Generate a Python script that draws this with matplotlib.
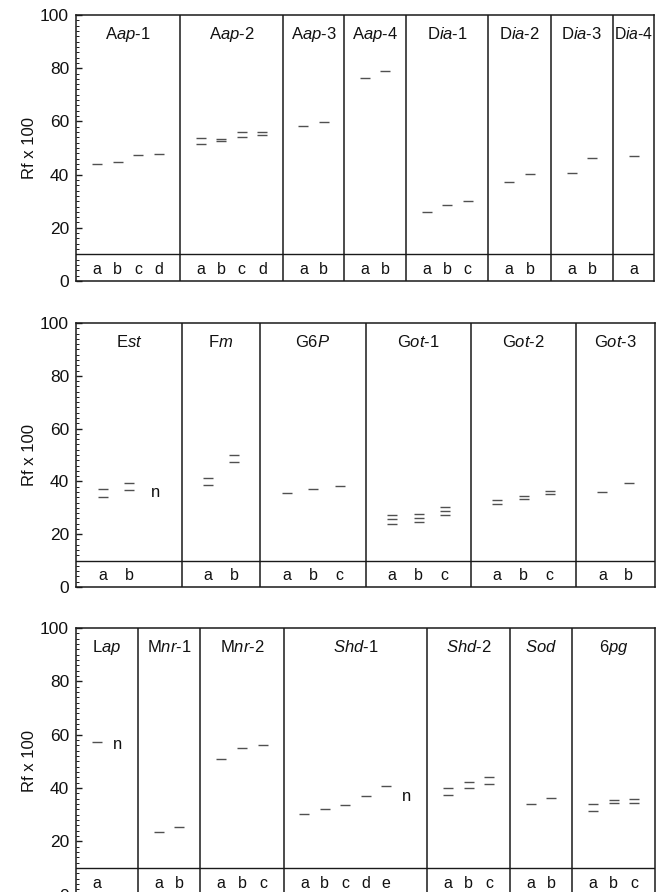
import matplotlib
matplotlib.use("Agg")
import matplotlib.pyplot as plt
from matplotlib.ticker import MultipleLocator

plt.rcParams['font.family'] = ['Liberation Sans', 'DejaVu Sans']
plt.rcParams['mathtext.fontset'] = 'custom'
plt.rcParams['mathtext.rm'] = 'Liberation Sans'
plt.rcParams['mathtext.it'] = 'Liberation Sans:italic'

# ---------------- data ----------------
# Panel 1
p1_titles = [r"A$\mathit{ap}$-$\mathit{1}$", r"A$\mathit{ap}$-$\mathit{2}$",
             r"A$\mathit{ap}$-$\mathit{3}$", r"A$\mathit{ap}$-$\mathit{4}$",
             r"D$\mathit{ia}$-$\mathit{1}$", r"D$\mathit{ia}$-$\mathit{2}$",
             r"D$\mathit{ia}$-$\mathit{3}$", r"D$\mathit{ia}$-$\mathit{4}$"]
p1_widths = [104, 103, 61, 62, 82, 63, 62, 41]
p1_lanes = [["a", "b", "c", "d"], ["a", "b", "c", "d"], ["a", "b"], ["a", "b"],
            ["a", "b", "c"], ["a", "b"], ["a", "b"], ["a"]]
p1_bands = [
    [[44.0], [44.6], [47.2], [47.9]],
    [[53.8, 51.5], [53.3, 52.5], [55.9, 54.1], [56.0, 54.8]],
    [[58.4], [59.8]],
    [[76.2], [78.9]],
    [[26.1], [28.5], [30.0]],
    [[37.1], [40.2]],
    [[40.5], [46.1]],
    [[46.9]],
]
p1_null = [None] * 8          # "n" marks (lane, value) if any

# Panel 2
p2_titles = [r"E$\mathit{st}$", r"F$\mathit{m}$", r"G$\mathit{6P}$",
             r"G$\mathit{ot}$-$\mathit{1}$", r"G$\mathit{ot}$-$\mathit{2}$",
             r"G$\mathit{ot}$-$\mathit{3}$"]
p2_widths = [106, 78, 106, 105, 105, 79]
p2_lanes = [["a", "b", ""], ["a", "b"], ["a", "b", "c"], ["a", "b", "c"],
            ["a", "b", "c"], ["a", "b"]]
p2_bands = [
    [[37.0, 34.2], [39.5, 36.7], []],
    [[41.4, 38.6], [50.0, 47.5]],
    [[35.5], [37.1], [38.4]],
    [[27.3, 25.6, 23.9], [27.8, 26.3, 24.5], [30.2, 28.7, 27.2]],
    [[32.8, 31.4], [34.6, 33.2], [36.5, 35.1]],
    [[35.9], [39.3]],
]
p2_null = [(2, 35.7), None, None, None, None, None]

# Panel 3
p3_titles = [r"L$\mathit{ap}$", r"M$\mathit{nr}$-$\mathit{1}$",
             r"M$\mathit{nr}$-$\mathit{2}$", r"$\mathit{Shd}$-$\mathit{1}$",
             r"$\mathit{Shd}$-$\mathit{2}$", r"$\mathit{Sod}$", r"$\mathit{6pg}$"]
p3_widths = [62, 62, 84, 143, 83, 62, 83]
p3_lanes = [["a", ""], ["a", "b"], ["a", "b", "c"], ["a", "b", "c", "d", "e", ""],
            ["a", "b", "c"], ["a", "b"], ["a", "b", "c"]]
p3_bands = [
    [[57.4], []],
    [[23.4], [25.4]],
    [[50.9], [55.0], [56.1]],
    [[30.3], [32.1], [33.8], [36.9], [40.8], []],
    [[39.9, 37.4], [42.4, 39.9], [44.0, 41.4]],
    [[34.0], [36.4]],
    [[33.9, 31.4], [35.5, 34.3], [35.8, 34.4]],
]
p3_null = [(1, 56.5), None, None, (5, 36.8), None, None, None]

# ---------------- figure ----------------
W, H = 661, 892
fig = plt.figure(figsize=(W / 100, H / 100), dpi=100)

panels = [
    ((76, 15, 654, 281), p1_titles, p1_widths, p1_lanes, p1_bands, p1_null),
    ((76, 323, 655, 587), p2_titles, p2_widths, p2_lanes, p2_bands, p2_null),
    ((76, 628, 655, 894.7), p3_titles, p3_widths, p3_lanes, p3_bands, p3_null),
]

LINE = '#1a1a1a'
BAND = '#505050'
TXT = '#111111'

for (x0, y0, x1, y1), titles, widths, lanes, bands, nulls in panels:
    ax = fig.add_axes([x0 / W, 1 - y1 / H, (x1 - x0) / W, (y1 - y0) / H])
    total = sum(widths)
    ax.set_xlim(0, total)
    ax.set_ylim(0, 100)
    ax.set_xticks([])
    ax.yaxis.set_major_locator(MultipleLocator(20))
    ax.yaxis.set_minor_locator(MultipleLocator(2))
    ax.tick_params(axis='y', which='major', direction='in', length=4,
                   width=1.0, labelsize=12.5, pad=5, color=LINE,
                   labelcolor=TXT)
    ax.tick_params(axis='y', which='minor', direction='in', length=2.5,
                   width=0.7, color=LINE)
    for s in ax.spines.values():
        s.set_color(LINE)
        s.set_linewidth(1.1)
    ax.set_ylabel("Rf x 100", fontsize=12, labelpad=2, color=TXT)
    ax.axhline(10, color=LINE, lw=1.0)

    start = 0
    for i, w in enumerate(widths):
        if i > 0:
            ax.axvline(start, color=LINE, lw=1.1)
        n = len(lanes[i])
        xs = [start + (k + 1) * w / (n + 1) for k in range(n)]
        ax.text(start + w / 2, 92.8, titles[i], ha='center', va='center',
                fontsize=12 if w > 45 else 11.3, color=TXT)
        for k, lab in enumerate(lanes[i]):
            if lab:
                ax.text(xs[k], 4.3, lab, ha='center', va='center',
                        fontsize=11.5, color=TXT)
            for v in bands[i][k]:
                ax.plot([xs[k] - 5, xs[k] + 5], [v, v], color=BAND, lw=1.0,
                        solid_capstyle='butt')
        if nulls[i] is not None:
            k, v = nulls[i]
            ax.text(xs[k], v, "n", ha='center', va='center', fontsize=12,
                    color=TXT)
        start += w

fig.savefig("out.png", dpi=100)
